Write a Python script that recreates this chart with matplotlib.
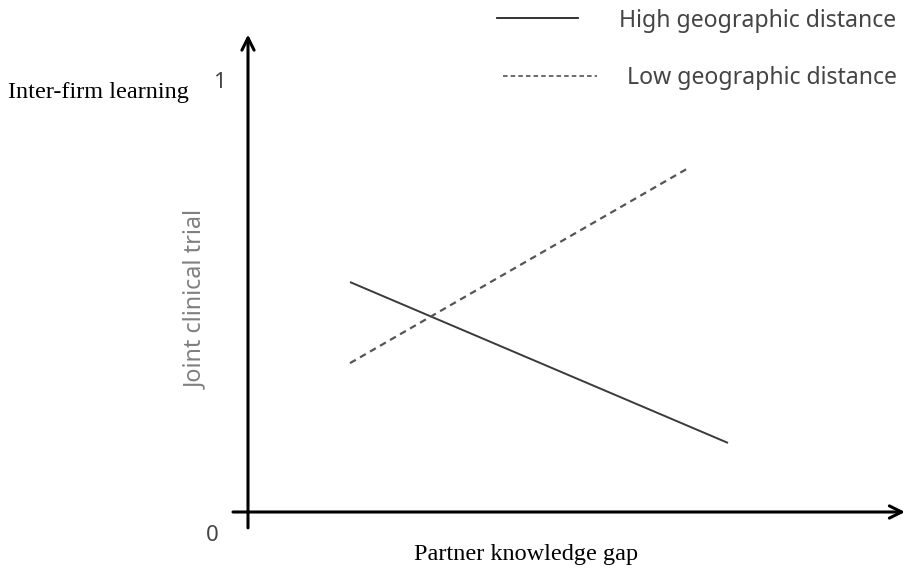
import matplotlib
matplotlib.use("Agg")
from matplotlib import pyplot as plt

# pixel scale helpers: x unit = 100 px, y unit = 429 px, origin at axis corner
x_high = [1.02, 4.80]
y_high = [0.536, 0.161]
x_low = [1.02, 4.42]
y_low = [0.347, 0.804]

legend_labels = ["High geographic distance", "Low geographic distance"]
y_ticks = [0, 1]

fig = plt.figure(figsize=(9.07, 5.73), dpi=100)
ax = fig.add_axes([0, 0, 1, 1])
ax.set_xlim(-2.48, 6.59)
ax.set_ylim((512 - 573) / 429, 512 / 429)
ax.axis("off")

# axes with arrows
ax.annotate("", xy=(0, 1.113), xytext=(0, -0.037),
            arrowprops=dict(arrowstyle="->", lw=2.2, color="black",
                            mutation_scale=22, shrinkA=0, shrinkB=0))
ax.annotate("", xy=(6.57, 0), xytext=(-0.15, 0),
            arrowprops=dict(arrowstyle="->", lw=2.2, color="black",
                            mutation_scale=22, shrinkA=0, shrinkB=0))

ax.plot(x_high, y_high, color="#3a3a3a", lw=1.4, solid_capstyle="butt")
ax.plot(x_low, y_low, color="#555555", lw=1.6, linestyle=(0, (3, 2.2)))

sans = ["Noto Sans", "DejaVu Sans"]
serif = "Liberation Serif"
ax.text(-0.29, y_ticks[1], "1", fontsize=16, color="#444444", family=sans,
        ha="center", va="center")
ax.text(-0.36, -0.054, "0", fontsize=16, color="#444444", family=sans,
        ha="center", va="center")

ax.text(-2.40, 0.979, "Inter-firm learning", fontsize=17.5, family=serif,
        ha="left", va="center")
ax.text(2.78, -0.098, "Partner knowledge gap", fontsize=17.5, family=serif,
        ha="center", va="center")
ax.text(-0.52, 0.495, "Joint clinical trial", fontsize=16.8, color="#808080", family=sans,
        rotation=90, ha="center", va="center")

# legend drawn by hand
ax.plot([2.49, 3.30], [1.151, 1.151], color="#222222", lw=1.3)
ax.text(3.71, 1.145, legend_labels[0], fontsize=16.6, color="#444444", family=sans,
        ha="left", va="center")
ax.plot([2.55, 3.49], [1.016, 1.016], color="#444444", lw=1.1, linestyle=(0, (3, 2)))
ax.text(3.79, 1.012, legend_labels[1], fontsize=16.6, color="#444444", family=sans,
        ha="left", va="center")

fig.savefig("out.png", dpi=100)
